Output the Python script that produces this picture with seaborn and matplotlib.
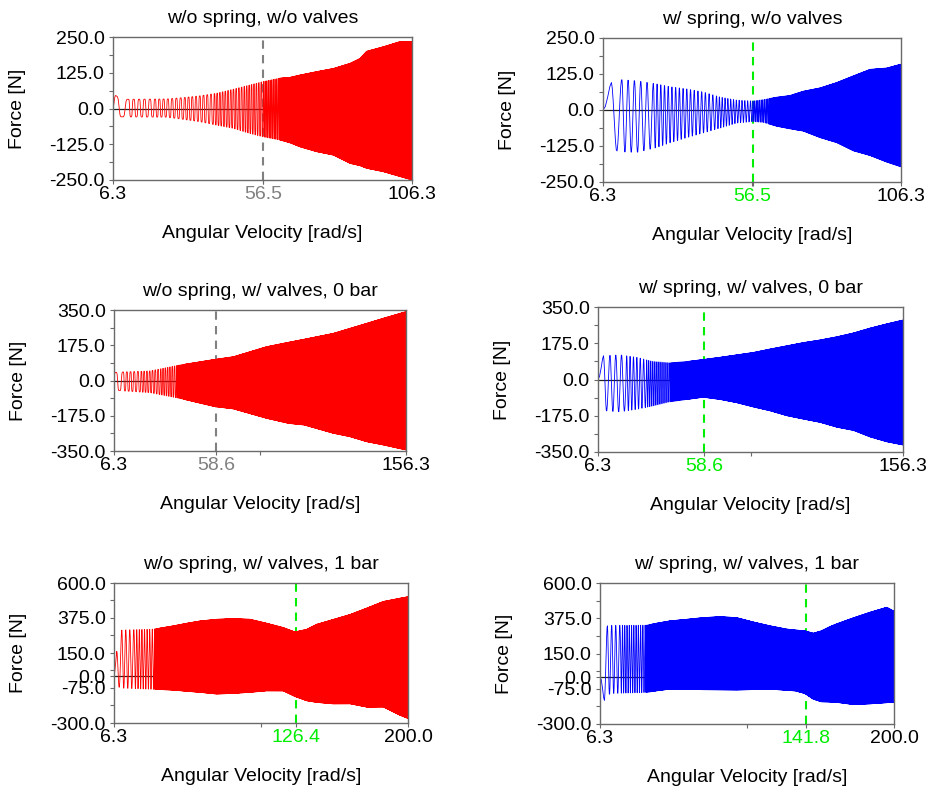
import numpy as np
import pandas as pd
import matplotlib
matplotlib.use("Agg")
import matplotlib.pyplot as plt
import seaborn as sns

sns.set_theme(style="white")
plt.rcParams["font.family"] = ["Liberation Sans", "DejaVu Sans"]
plt.rcParams["text.color"] = "black"
plt.rcParams["axes.labelcolor"] = "black"

RED, BLUE = "#ff0000", "#0000ff"
GREY, LIME = "#808080", "#00ee00"
FRAME = "#6a6a6a"

# ---- panel metadata -------------------------------------------------------
titles = ["w/o spring, w/o valves", "w/ spring, w/o valves",
          "w/o spring, w/ valves, 0 bar", "w/ spring, w/ valves, 0 bar",
          "w/o spring, w/ valves, 1 bar", "w/ spring, w/ valves, 1 bar"]
trace_colors = [RED, BLUE, RED, BLUE, RED, BLUE]
speed_start = 6.3
speed_end = [106.3, 106.3, 156.3, 156.3, 200.0, 200.0]
marker_speed = [56.5, 56.5, 58.6, 58.6, 126.4, 141.8]
marker_colors = [GREY, LIME, GREY, LIME, LIME, LIME]
force_ticks = [[-250, -125, 0, 125, 250], [-250, -125, 0, 125, 250],
               [-350, -175, 0, 175, 350], [-350, -175, 0, 175, 350],
               [-300, -75, 0, 150, 375, 600], [-300, -75, 0, 150, 375, 600]]
force_minor = [[-187.5, -62.5, 62.5, 187.5], [-187.5, -62.5, 62.5, 187.5],
               [-262.5, -87.5, 87.5, 262.5], [-262.5, -87.5, 87.5, 262.5],
               [-187.5, 37.5, 262.5, 487.5], [-187.5, 37.5, 262.5, 487.5]]

# ---- force envelopes (upper / lower peaks) vs angular velocity -------------
p1_speed = [6.3, 7.0, 9.0, 24.3, 30.0, 35.4, 41.0, 46.5, 52.1, 56.6, 62.1, 65.5, 68.8,
            74.4, 80.0, 85.6, 88.9, 91.1, 96.7, 102.3, 106.3]
p1_upper = [0, 47, 32, 33, 38, 44, 53, 67, 82, 94, 106, 109, 117,
            129, 140, 158, 175, 200, 216, 234, 234]
p1_lower = [0, -29, -29, -30, -38, -46, -58, -69, -87, -99, -110, -120, -134,
            -151, -163, -192, -200, -209, -221, -238, -250]

p2_speed = [6.3, 9.0, 10.9, 12.6, 17.6, 24.3, 28.8, 34.4, 40.0, 45.6, 51.2, 56.7, 60.1,
            64.6, 69.0, 73.5, 79.1, 84.7, 90.3, 95.9, 101.5, 106.3]
p2_upper = [0, 98, 100, 108, 104, 93, 83, 75, 64, 46, 35, 32, 37,
            46, 52, 67, 79, 98, 122, 145, 150, 164]
p2_lower = [0, -100, -145, -148, -150, -133, -116, -98, -81, -64, -46, -41, -44,
            -58, -67, -75, -98, -116, -145, -162, -185, -202]

p3_speed = [6.3, 24.8, 40.2, 58.2, 67.6, 84.7, 96.0, 104.0, 118.9, 127.5, 136.1, 144.6, 156.3]
p3_upper = [40, 47, 77, 105, 118, 168, 190, 205, 234, 259, 284, 309, 342]
p3_lower = [-48, -60, -89, -130, -141, -188, -213, -221, -262, -279, -304, -320, -345]

p4_speed = [6.3, 8.9, 10.5, 17.1, 25.3, 33.0, 41.7, 49.9, 58.1, 66.3, 74.5, 82.7, 90.9,
            99.1, 107.3, 115.5, 123.8, 132.0, 140.1, 148.3, 156.3]
p4_upper = [0, 118, 118, 122, 110, 90, 83, 89, 99, 110, 122, 134, 151,
            167, 183, 196, 212, 231, 255, 276, 295]
p4_lower = [0, -120, -155, -159, -147, -131, -110, -99, -88, -99, -115, -136, -155,
            -179, -196, -212, -236, -252, -284, -308, -324]

p5_speed = [6.3, 8.0, 11.4, 32.2, 45.4, 54.2, 63.0, 74.0, 84.9, 95.9, 106.9, 117.8,
            125.5, 133.2, 139.8, 150.8, 161.8, 172.8, 183.7, 194.7, 200.0]
p5_upper = [0, 158, 302, 308, 330, 347, 362, 373, 377, 373, 347, 319,
            291, 308, 341, 373, 405, 447, 490, 512, 522]
p5_lower = [0, -67, -80, -88, -94, -102, -109, -120, -116, -109, -99, -99,
            -135, -163, -174, -184, -184, -206, -206, -260, -281]

p6_speed = [6.3, 9.1, 11.1, 14.0, 37.1, 43.6, 52.4, 63.4, 74.3, 85.4, 96.3, 107.3,
            118.3, 129.3, 135.0, 141.3, 146.8, 152.0, 157.8, 162.0, 173.2, 184.2, 195.2, 200.0]
p6_upper = [0, 200, 332, 334, 336, 349, 364, 374, 385, 391, 385, 357,
            332, 311, 305, 300, 285, 300, 328, 345, 385, 421, 453, 428]
p6_lower = [0, -157, -120, -110, -104, -94, -83, -85, -87, -88, -89, -86,
            -83, -90, -94, -111, -147, -164, -166, -168, -183, -179, -172, -168]

# ---- cumulative oscillation cycles vs angular velocity ---------------------
p1_cyc_speed = [6.3, 11.4, 20.0, 30.0, 40.0, 50.0, 56.5, 62.0, 106.3]
p1_cyc_count = [0, 1.25, 6, 13, 21, 32, 40, 50, 400]
p2_cyc_speed = [6.3, 9.0, 10.9, 12.6, 23.2, 44.4, 56.5, 62.0, 70.0, 106.3]
p2_cyc_count = [0, 0.25, 0.75, 1.25, 6.25, 23.25, 36, 46, 80, 300]
p3_cyc_speed = [6.3, 11.0, 20.0, 30.0, 38.3, 42.0, 156.3]
p3_cyc_count = [0, 1.25, 6, 13, 20, 26, 650]
p4_cyc_speed = [6.3, 8.9, 10.5, 12.2, 20.0, 30.0, 42.0, 50.0, 156.3]
p4_cyc_count = [0, 0.25, 0.75, 1.25, 4, 10, 22, 40, 600]
p5_cyc_speed = [6.3, 8.0, 11.4, 20.0, 32.8, 36.0, 200.0]
p5_cyc_count = [0, 0.25, 1.25, 4.5, 12, 18, 750]
p6_cyc_speed = [6.3, 9.1, 11.1, 14.0, 20.0, 36.4, 40.0, 200.0]
p6_cyc_count = [0, 0.25, 0.75, 1.75, 4, 15, 22, 750]

envelopes = [(p1_speed, p1_upper, p1_lower), (p2_speed, p2_upper, p2_lower),
             (p3_speed, p3_upper, p3_lower), (p4_speed, p4_upper, p4_lower),
             (p5_speed, p5_upper, p5_lower), (p6_speed, p6_upper, p6_lower)]
cycles = [(p1_cyc_speed, p1_cyc_count), (p2_cyc_speed, p2_cyc_count),
          (p3_cyc_speed, p3_cyc_count), (p4_cyc_speed, p4_cyc_count),
          (p5_cyc_speed, p5_cyc_count), (p6_cyc_speed, p6_cyc_count)]
flatness = [1.8, 1.0, 1.8, 1.0, 1.0, 1.0]     # square-ish pulses without spring
first_sign = [1, 1, 1, 1, 1, -1]

# axes boxes in pixels: left, right, top, bottom
boxes = [(113, 412, 37, 180), (603, 901, 38, 182),
         (114, 406, 310, 451), (598, 903, 307, 452),
         (114, 408, 583, 723), (600, 894, 583, 724)]
W, H = 930, 789


def force_trace(env, cyc, flat, sign, pts_per_cycle=14):
    env_w, env_hi, env_lo = env
    cyc_w, cyc_n = cyc
    phase = np.linspace(0, cyc_n[-1], int(cyc_n[-1] * pts_per_cycle) + 1)
    w = np.interp(phase, cyc_n, cyc_w)
    hi = np.interp(w, env_w, env_hi)
    lo = np.interp(w, env_w, env_lo)
    s = sign * np.sin(2 * np.pi * phase)
    if flat > 1:
        s = np.clip(flat * s, -1, 1)
    return pd.DataFrame({"speed": w, "force": (hi + lo) / 2 + (hi - lo) / 2 * s})


fig = plt.figure(figsize=(W / 100, H / 100), dpi=100)
FS = 14

for i in range(6):
    L, R, T, B = boxes[i]
    ax = fig.add_axes([L / W, 1 - B / H, (R - L) / W, (B - T) / H])
    df = force_trace(envelopes[i], cycles[i], flatness[i], first_sign[i])

    ax.axhline(0, color="#222222", lw=0.9, zorder=1)
    ax.axvline(marker_speed[i], color=marker_colors[i], lw=1.5,
               ls=(0, (4, 3)), zorder=1.5)
    sns.lineplot(data=df, x="speed", y="force", ax=ax, color=trace_colors[i],
                 lw=0.6, estimator=None, sort=False, zorder=2)

    ax.set_xlim(speed_start, speed_end[i])
    yt = force_ticks[i]
    ax.set_ylim(yt[0], yt[-1])
    xt = [speed_start, marker_speed[i], speed_end[i]]
    ax.set_xticks(xt)
    ax.set_xticklabels([f"{v:.1f}" for v in xt])
    ax.set_xticks([(speed_start + speed_end[i]) / 2], minor=True)
    ax.set_yticks(yt)
    ax.set_yticklabels([f"{v:.1f}" for v in yt])
    ax.set_yticks(force_minor[i], minor=True)

    ax.tick_params(axis="both", which="both", direction="out", color=FRAME,
                   length=3, width=0.8, labelsize=FS, labelcolor="black",
                   bottom=True, left=True)
    ax.get_xticklabels()[1].set_color(marker_colors[i])
    ax.tick_params(axis="x", which="major", pad=1)
    ax.tick_params(axis="y", which="major", pad=3)
    for sp in ax.spines.values():
        sp.set_color(FRAME)
        sp.set_linewidth(1.0)

    ax.set_title(titles[i], fontsize=FS, pad=10, color="black")
    ax.set_xlabel("Angular Velocity [rad/s]", fontsize=FS, labelpad=16)
    ax.set_ylabel("Force [N]", fontsize=FS, labelpad=17)

fig.savefig("out.png", dpi=100)
